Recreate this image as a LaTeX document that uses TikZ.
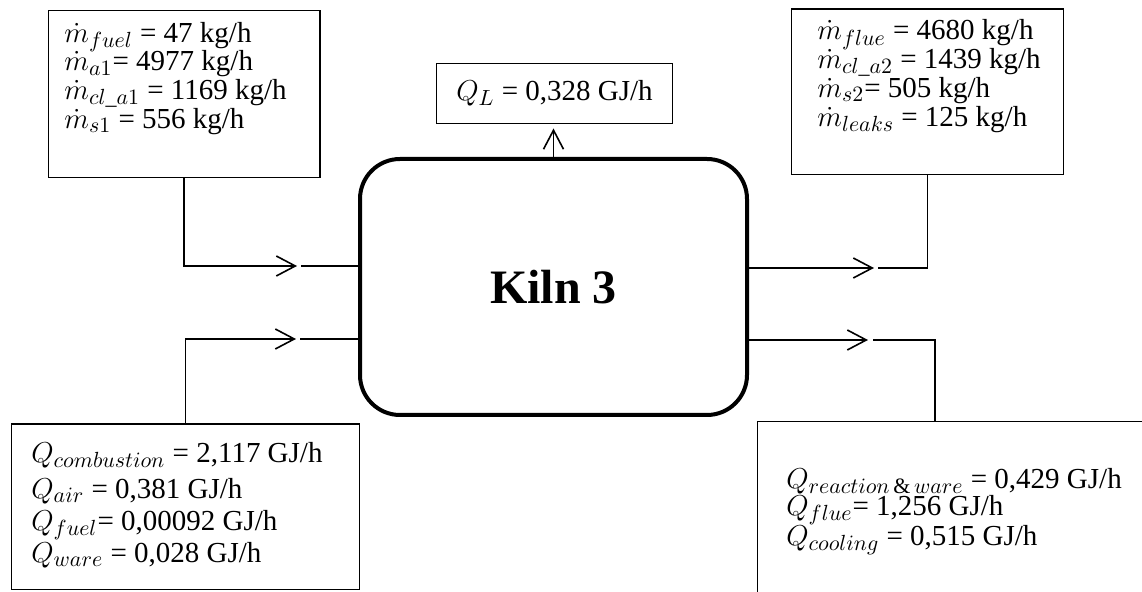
\documentclass[tikz,border=0pt]{standalone}
\usepackage{amsmath}
\usepackage{fontspec}
\setmainfont{Liberation Serif}
\DeclareMathSizes{14.5}{14.5}{11}{8.5}
\usetikzlibrary{arrows.meta}
\lineskiplimit=-20pt
\lineskip=0pt
\newcommand{\firstline}{\rule{0pt}{12pt}}
\begin{document}
\begin{tikzpicture}[x=0.5pt,y=-0.5pt,
  box/.style={draw, line width=0.7pt, inner sep=0pt, anchor=north west},
  txt/.style={inner sep=0pt, anchor=north west, align=left,
    font=\fontsize{14.5}{14.4}\selectfont},
  conn/.style={line width=0.75pt},
  arr/.style={conn, -{Straight Barb[length=9.5pt,width=10pt,line width=0.8pt]}},
]
\useasboundingbox (0,0) rectangle (1142,592);
\clip (0,0) rectangle (1142,592);

% boxes
\node[box, minimum width=135.8pt, minimum height=83.35pt] (tl) at (47.7,10) {};
\node[box, minimum width=136.15pt, minimum height=82.85pt] (tr) at (790.7,8.3) {};
\node[box, minimum width=117.85pt, minimum height=30pt, font=\fontsize{14.5}{14.4}\selectfont] (ql) at (436,62.7) {$Q_L$ = 0,328 GJ/h};
\node[box, minimum width=173.75pt, minimum height=82.75pt] (bl) at (11,423.5) {};
\node[box, minimum width=250pt, minimum height=100pt] (br) at (757,421) {};

% texts
\node[txt] (tltext) at (64,17.7) {\firstline$\dot{m}_{fuel}$ = 47 kg/h\\
$\dot{m}_{a1}$= 4977 kg/h\\
$\dot{m}_{cl\_a1}$ = 1169 kg/h\\
$\dot{m}_{s1}$ = 556 kg/h};
\node[txt] (trtext) at (817,15.5) {\firstline$\dot{m}_{flue}$ = 4680 kg/h\\
$\dot{m}_{cl\_a2}$ = 1439 kg/h\\
$\dot{m}_{s2}$= 505 kg/h\\
$\dot{m}_{leaks}$ = 125 kg/h};
\node[txt, font=\fontsize{14.5}{16}\selectfont] (bltext) at (31,438) {\firstline$Q_{combustion}$ = 2,117 GJ/h\\[2pt]
$Q_{air}$ = 0,381 GJ/h\\
$Q_{fuel}$= 0,00092 GJ/h\\
$Q_{ware}$ = 0,028 GJ/h};
\node[txt, font=\fontsize{14.5}{13.5}\selectfont] (brtext) at (786,464) {\firstline$Q_{reaction\,\text{\&}\,ware}$ = 0,429 GJ/h\\
$Q_{flue}$= 1,256 GJ/h\\[1.5pt]
$Q_{cooling}$ = 0,515 GJ/h};

% kiln
\node[draw, line width=2pt, rounded corners=20pt, minimum width=193.5pt, minimum height=128pt,
  font=\fontsize{24}{28}\selectfont\bfseries] (kiln) at (553.5,287) {Kiln 3};

% connector points
\coordinate (inA) at (297,266);
\coordinate (inAb) at (301,266);
\coordinate (inB) at (296,339);
\coordinate (inBb) at (300,339);
\coordinate (outA) at (874,268);
\coordinate (outAb) at (878,268);
\coordinate (outB) at (868,340);
\coordinate (outBb) at (873,340);

% connectors
\draw[arr] (tl.south) |- (inA);
\draw[conn] (inAb) -- (inAb -| kiln.west);
\draw[arr] (bl.north) |- (inB);
\draw[conn] (inBb) -- (inBb -| kiln.west);
\draw[arr] (kiln.east |- outA) -- (outA);
\draw[conn] (outAb) -| (tr.south);
\draw[arr] (kiln.east |- outB) -- (outB);
\draw[conn] (outBb) -| ([xshift=89pt]br.north west);
\draw[arr] (kiln.north) -- ([yshift=-2.2pt]kiln.north |- ql.south);
\end{tikzpicture}
\end{document}
